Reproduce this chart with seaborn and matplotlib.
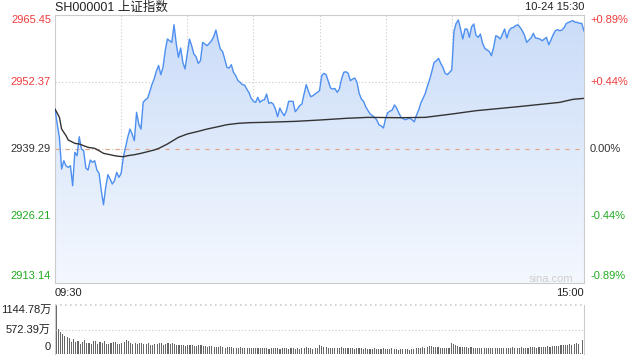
import matplotlib
matplotlib.use("Agg")
import matplotlib.pyplot as plt
import matplotlib.transforms as mtransforms
from matplotlib.colors import LinearSegmentedColormap
import numpy as np
import pandas as pd
import seaborn as sns

sns.set_style("white")
# Liberation Sans para cifras, Noto CJK para el nombre del índice
plt.rcParams['font.family'] = ['Liberation Sans', 'Noto Sans CJK SC', 'DejaVu Sans']

# Datos (minuto 0 = 09:30, 120 = 11:30/13:00, 240 = 15:00)
prev_close = 2939.29
price_ticks = [2913.14, 2926.21, 2939.29, 2952.37, 2965.45]
pct_labels = ['-0.89%', '-0.44%', '0.00%', '+0.44%', '+0.89%']
vol_ticks = [0, 572.39, 1144.78]
vol_labels = ['0', '572.39万', '1144.78万']

prices = [
    2947.10, 2944.17, 2941.57, 2935.39, 2937.01, 2936.00, 2935.71, 2936.04, 2932.13, 2938.64,
    2937.99, 2941.69, 2939.29, 2938.96, 2935.58, 2935.19, 2937.14, 2936.69, 2937.01, 2935.19,
    2934.54, 2931.15, 2928.42, 2931.81, 2934.28, 2933.43, 2932.46, 2933.11, 2934.74, 2933.76,
    2934.54, 2937.66, 2939.62, 2941.57, 2943.19, 2942.22, 2940.92, 2946.45, 2944.17, 2943.19,
    2948.40, 2948.90, 2949.20, 2950.50, 2951.90, 2953.00, 2954.50, 2955.60, 2953.80, 2955.23,
    2958.50, 2960.76, 2960.43, 2960.11, 2963.55, 2959.90, 2957.19, 2959.01, 2956.21, 2954.91,
    2957.83, 2960.76, 2959.46, 2957.83, 2957.31, 2956.01, 2956.53, 2960.11, 2959.79, 2959.46,
    2959.92, 2960.43, 2961.21, 2962.52, 2960.50, 2958.81, 2958.36, 2956.86, 2955.23, 2955.10,
    2955.75, 2954.26, 2953.61, 2952.63, 2952.31, 2951.85, 2951.78, 2951.00, 2950.30, 2949.20,
    2948.60, 2948.40, 2949.38, 2948.40, 2948.80, 2948.90, 2950.03, 2948.21, 2948.40, 2948.07,
    2947.10, 2945.60, 2947.29, 2946.45, 2945.79, 2946.77, 2948.60, 2948.60, 2948.60, 2946.57,
    2947.10, 2947.75, 2948.07, 2950.03, 2951.85, 2950.55, 2949.50, 2949.70, 2950.03, 2950.36,
    2950.68, 2953.61, 2954.07, 2953.80, 2952.50, 2951.20, 2951.00, 2951.10, 2950.36, 2951.00,
    2952.95, 2954.26, 2954.38, 2954.07, 2952.63, 2952.95, 2953.15, 2952.31, 2950.16, 2949.05,
    2948.60, 2947.50, 2946.80, 2946.10, 2945.80, 2945.47, 2944.95, 2944.00, 2943.80, 2943.40,
    2945.30, 2946.40, 2946.70, 2946.90, 2947.90, 2947.30, 2946.30, 2945.50, 2945.20, 2945.00,
    2945.20, 2945.30, 2945.00, 2944.60, 2945.90, 2946.90, 2948.30, 2949.20, 2950.16, 2951.65,
    2952.90, 2954.50, 2956.21, 2956.50, 2957.00, 2956.01, 2955.23, 2954.07, 2953.80, 2954.26,
    2954.71, 2962.26, 2963.82, 2964.47, 2962.71, 2960.76, 2962.71, 2962.71, 2961.09, 2963.16,
    2963.69, 2961.50, 2961.09, 2961.74, 2959.92, 2958.95, 2958.62, 2958.36, 2957.50, 2959.14,
    2961.41, 2961.21, 2960.76, 2961.74, 2962.71, 2960.96, 2962.38, 2962.91, 2963.04, 2963.36,
    2963.55, 2963.04, 2962.38, 2961.50, 2960.11, 2960.57, 2961.00, 2961.87, 2960.96, 2960.89,
    2960.76, 2960.43, 2960.76, 2961.09, 2959.65, 2960.57, 2961.61, 2962.38, 2962.60, 2962.38,
    2962.52, 2963.00, 2963.82, 2964.00, 2964.21, 2964.34, 2964.02, 2964.02, 2963.82, 2963.82,
    2962.30,
]
minutes = list(range(len(prices)))

# Precio medio (vértices leídos sobre la curva negra)
avg_minutes = [0, 2, 3, 5, 6, 9, 11, 13, 15, 18, 20, 22, 25, 27, 29, 31, 33, 36, 39, 42,
               45, 47, 51, 56, 60, 65, 69, 74, 78, 83, 88, 95, 109, 120, 132, 142, 156, 168,
               180, 191, 210, 229, 235, 240]
avg_prices = [2947.10, 2945.47, 2943.19, 2941.89, 2941.05, 2940.40, 2940.27, 2939.94, 2939.62,
              2939.42, 2938.96, 2938.45, 2938.18, 2937.99, 2937.86, 2937.79, 2937.99, 2938.18,
              2938.45, 2938.77, 2939.10, 2939.40, 2940.27, 2941.57, 2942.22, 2942.74, 2943.19,
              2943.65, 2944.04, 2944.30, 2944.43, 2944.50, 2944.69, 2944.95, 2945.28, 2945.47,
              2945.40, 2945.47, 2946.12, 2946.77, 2947.55, 2948.40, 2948.99, 2949.18]

# Volumen por minuto, en 万
volumes = [
    1144.78, 576, 522, 467, 428, 390, 375, 290, 350, 290,
    300, 240, 285, 330, 260, 250, 240, 300, 310, 240,
    290, 260, 310, 230, 240, 250, 280, 270, 240, 230,
    250, 290, 320, 300, 260, 240, 260, 230, 260, 250,
    230, 240, 250, 220, 200, 230, 240, 260, 250, 220,
    230, 250, 240, 260, 230, 210, 220, 200, 210, 190,
    200, 220, 210, 190, 180, 200, 210, 190, 180, 170,
    180, 190, 170, 160, 170, 180, 160, 150, 160, 170,
    160, 150, 140, 150, 160, 150, 140, 130, 140, 150,
    140, 150, 130, 140, 150, 140, 130, 120, 130, 140,
    130, 140, 120, 130, 140, 130, 120, 130, 140, 120,
    130, 120, 140, 150, 160, 140, 130, 120, 130, 140,
    200, 180, 170, 160, 150, 140, 150, 140, 130, 150,
    160, 150, 140, 130, 140, 130, 120, 130, 140, 130,
    120, 130, 120, 110, 120, 130, 120, 110, 120, 130,
    120, 110, 120, 130, 120, 110, 100, 110, 120, 110,
    110, 100, 110, 120, 130, 140, 150, 160, 150, 170,
    180, 190, 170, 160, 170, 150, 140, 150, 140, 150,
    250, 230, 200, 180, 170, 160, 170, 160, 150, 160,
    150, 140, 150, 140, 130, 140, 150, 140, 130, 140,
    140, 130, 140, 150, 140, 130, 140, 150, 160, 150,
    140, 150, 160, 150, 140, 150, 160, 170, 160, 150,
    160, 170, 160, 170, 180, 170, 180, 190, 180, 190,
    200, 210, 200, 220, 230, 220, 240, 250, 230, 20,
    330,
]

up_color = '#f03c3c'
down_color = '#22aa22'
grid_color = '#cccccc'
line_color = '#4d8ff0'

fig = plt.figure(figsize=(6.4, 3.6), dpi=100)
W, H = 640, 360
ax = fig.add_axes([55 / W, 1 - 283 / H, 529 / W, 268 / H])
vax = fig.add_axes([55 / W, 1 - 354 / H, 529 / W, 49 / H])

lo, hi = price_ticks[0], price_ticks[-1]

# Relleno degradado bajo la curva
poly = ax.fill_between(minutes, prices, lo, color='none', lw=0)
grad = np.linspace(1, 0, 256).reshape(-1, 1)
cmap = LinearSegmentedColormap.from_list('relleno', ['#f4f8fe', '#cadcf8'])
img = ax.imshow(grad, cmap=cmap, aspect='auto', extent=[0, 240, lo, hi],
                origin='upper', zorder=1, interpolation='bilinear')
img.set_clip_path(poly.get_paths()[0], transform=ax.transData)

# Rejilla punteada
for m in range(30, 240, 30):
    ax.axvline(m, color=grid_color, lw=0.8, ls=(0, (1, 2)), zorder=0.5)
for p in price_ticks[1:-1]:
    ax.axhline(p, color=grid_color, lw=0.8, ls=(0, (1, 2)), zorder=0.5)
ax.axhline(prev_close, color='#e9a07e', lw=0.8, ls=(0, (3.6, 5.4)), zorder=2)

df = pd.DataFrame({'minuto': minutes, 'precio': prices})
sns.lineplot(data=df, x='minuto', y='precio', ax=ax, color=line_color, lw=1.0, zorder=3)
df_avg = pd.DataFrame({'minuto': avg_minutes, 'media': avg_prices})
sns.lineplot(data=df_avg, x='minuto', y='media', ax=ax, color='#333333', lw=1.0, zorder=4)

ax.set_xlim(0, 240)
ax.set_ylim(lo, hi)
ax.set_xticks([])
ax.set_yticks([])
ax.set_xlabel('')
ax.set_ylabel('')
for s in ax.spines.values():
    s.set_color(grid_color)
    s.set_linewidth(0.8)

# Etiquetas de precio y porcentaje
tr = mtransforms.blended_transform_factory(ax.transAxes, ax.transData)
colors = [down_color, down_color, '#333333', up_color, up_color]
vas = ['bottom', 'center', 'center', 'center', 'top']
for p, lab, c, va in zip(price_ticks, pct_labels, colors, vas):
    yy = p
    if va == 'bottom':
        yy = p + 0.3
    ax.text(-4 / 529, yy, f'{p:.2f}', transform=tr, ha='right', va=va, color=c, fontsize=8)
    ax.text(1 + 6 / 529, yy, lab, transform=tr, ha='left', va=va, color=c, fontsize=8)

ax.text(573 / W, 1 - 282 / H, 'sina.com', transform=fig.transFigure, ha='right',
        va='baseline', color='#cfcfcf', fontsize=8)
fig.text(55 / W, 1 - 7.5 / H, 'SH000001 上证指数', ha='left', va='center', fontsize=9, color='#222222')
fig.text(584 / W, 1 - 7.5 / H, '10-24 15:30', ha='right', va='center', fontsize=8, color='#222222')
fig.text(55 / W, 1 - 293 / H, '09:30', ha='left', va='center', fontsize=8, color='#222222')
fig.text(584 / W, 1 - 293 / H, '15:00', ha='right', va='center', fontsize=8, color='#222222')

# Panel de volumen
sns.barplot(x=minutes, y=volumes, native_scale=True, width=0.5, color='#666666',
            saturation=1, linewidth=0, errorbar=None, ax=vax)
vax.set_xlim(-0.5, 240.5)
vax.set_ylim(0, vol_ticks[-1])
vax.axhline(vol_ticks[1], color=grid_color, lw=0.8, ls=(0, (1, 2)))
vax.axhline(vol_ticks[2], color=grid_color, lw=1.2, ls=(0, (1, 2)), clip_on=False)
vax.set_xticks([])
vax.set_yticks([])
vax.set_xlabel('')
vax.set_ylabel('')
for k in ['top', 'bottom']:
    vax.spines[k].set_visible(False)
for k in ['left', 'right']:
    vax.spines[k].set_color(grid_color)
    vax.spines[k].set_linewidth(0.8)
vtr = mtransforms.blended_transform_factory(vax.transAxes, vax.transData)
vax.text(-4 / 529, vol_ticks[2], vol_labels[2], transform=vtr, ha='right', va='top', fontsize=8, color='#222222')
vax.text(-4 / 529, vol_ticks[1], vol_labels[1], transform=vtr, ha='right', va='center', fontsize=8, color='#222222')
vax.text(-4 / 529, 40, vol_labels[0], transform=vtr, ha='right', va='bottom', fontsize=8, color='#222222')

fig.savefig('out.png', dpi=100)
